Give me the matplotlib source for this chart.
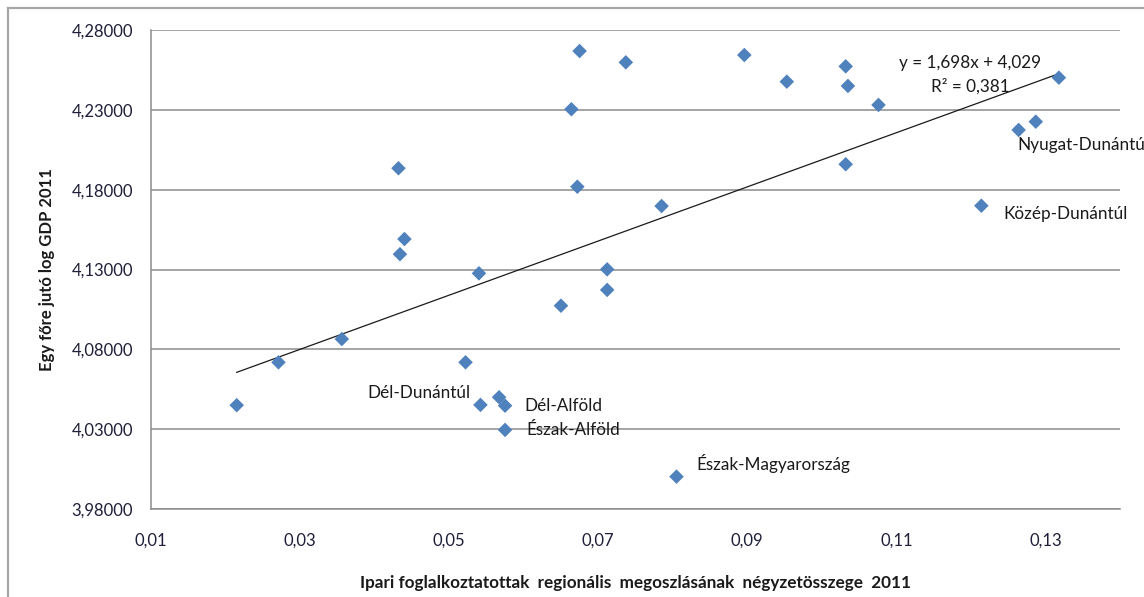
import numpy as np
import matplotlib
matplotlib.use("Agg")
import matplotlib.pyplot as plt
from matplotlib.ticker import FuncFormatter
from matplotlib.lines import Line2D

plt.rcParams['font.family'] = ['Lato', 'DejaVu Sans']

# adatok
x_vals = [0.0215, 0.0271, 0.0356, 0.0675, 0.0737, 0.0896, 0.0664, 0.0432,
          0.0672, 0.0785, 0.0440, 0.0434, 0.0540, 0.0712, 0.0712, 0.0650,
          0.0522, 0.0542, 0.0567, 0.0575, 0.0575, 0.0805, 0.0953, 0.1032,
          0.1035, 0.1076, 0.1032, 0.1318, 0.1264, 0.1287, 0.1214]
y_vals = [4.0449, 4.0718, 4.0864, 4.2670, 4.2599, 4.2645, 4.2305, 4.1935,
          4.1819, 4.1698, 4.1491, 4.1396, 4.1276, 4.1301, 4.1172, 4.1073,
          4.0718, 4.0451, 4.0499, 4.0446, 4.0294, 4.0001, 4.2478, 4.2574,
          4.2451, 4.2332, 4.1960, 4.2503, 4.2175, 4.2227, 4.1700]

region_names = ['Dél-Dunántúl', 'Dél-Alföld', 'Észak-Alföld',
                'Észak-Magyarország', 'Közép-Dunántúl', 'Nyugat-Dunántúl']
region_idx = [17, 19, 20, 21, 30, 29]

slope = 1.698
intercept = 4.029
r2 = 0.381

x_title = 'Ipari foglalkoztatottak  regionális  megoszlásának  négyzetösszege  2011'
y_title = 'Egy főre jutó log GDP 2011'

# cimke eltolások pixelben
label_offsets = [(-10, 12, 'right'), (19, 0, 'left'), (21, 0, 'left'),
                 (20, 13, 'left'), (22, -8, 'left'), (-18, -23, 'left')]

fig = plt.figure(figsize=(11.44, 5.97), dpi=100)
ax = fig.add_axes([151 / 1144, 1 - 508.7 / 597, (1120 - 151) / 1144, (508.7 - 30.3) / 597])

# külső keret (csak bal és felső látszik)
fig.add_artist(Line2D([8 / 1144, 8 / 1144], [0, 1 - 8 / 597], transform=fig.transFigure,
                      color='#a6a6a6', lw=1.6))
fig.add_artist(Line2D([8 / 1144, 1], [1 - 8 / 597, 1 - 8 / 597], transform=fig.transFigure,
                      color='#a6a6a6', lw=1.6))

ax.set_xlim(0.01, 0.14)
ax.set_ylim(3.98, 4.28)
ax.set_yticks(np.linspace(3.98, 4.28, 7))
ax.set_xticks(np.linspace(0.01, 0.13, 7))
ax.yaxis.set_major_formatter(FuncFormatter(lambda v, p: f"{v:.5f}".replace('.', ',')))
ax.xaxis.set_major_formatter(FuncFormatter(lambda v, p: f"{v:.2f}".replace('.', ',')))
ax.tick_params(length=0, labelsize=12, labelcolor='#1f1f3a')
ax.tick_params(axis='y', pad=13)
ax.tick_params(axis='x', pad=17)

ax.grid(axis='y', color='#8c8c8c', lw=1.1)
ax.set_axisbelow(True)
for s in ['top', 'right']:
    ax.spines[s].set_visible(False)
for s in ['left', 'bottom']:
    ax.spines[s].set_color('#8c8c8c')
    ax.spines[s].set_linewidth(1.1)

# trendvonal
xt = np.array([min(x_vals), max(x_vals)])
ax.plot(xt, slope * xt + intercept, color='#1a1a1a', lw=0.9, zorder=2)

ax.scatter(x_vals, y_vals, marker='D', s=55, color='#4f81bd', edgecolors='none', zorder=3)

for name, i, (dx, dy, ha) in zip(region_names, region_idx, label_offsets):
    ax.annotate(name, (x_vals[i], y_vals[i]), xytext=(dx, dy), textcoords='offset pixels',
                ha=ha, va='center', fontsize=12.3, color='#1a1a1a', annotation_clip=False)

ax.text(0.1199, 4.2595, f"y = {slope:.3f}x + {intercept:.3f}".replace('.', ','),
        ha='center', va='center', fontsize=12.3, color='#1a1a1a')
ax.text(0.1199, 4.2451, f"R² = {r2:.3f}".replace('.', ','),
        ha='center', va='center', fontsize=12.3, color='#1a1a1a')

ax.set_xlabel(x_title, fontsize=12.3, fontweight='bold', color='#1a1a1a', labelpad=19)
ax.set_ylabel(y_title, fontsize=12, fontweight='bold', color='#1a1a1a', labelpad=12)

fig.savefig('out.png', dpi=100)
